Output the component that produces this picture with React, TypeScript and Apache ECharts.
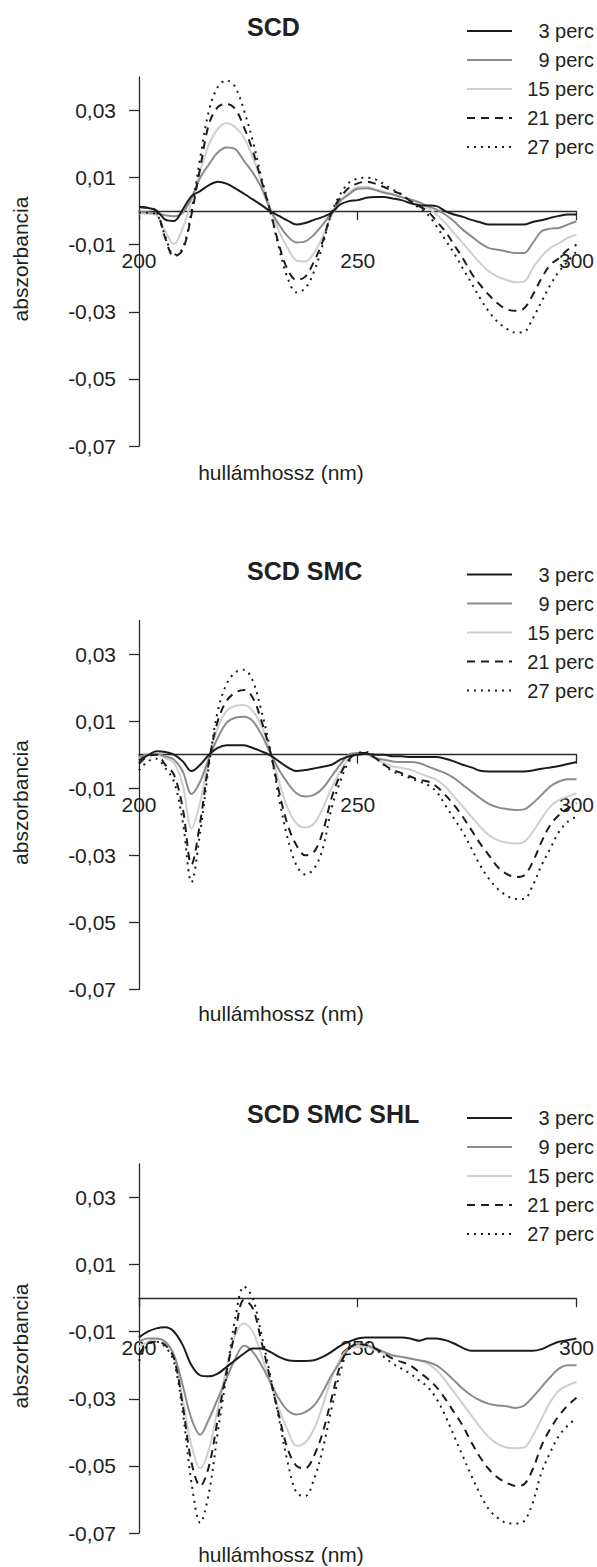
import React, { useEffect, useRef } from "react";
import * as echarts from "echarts";

// wavelength grid (nm)
const wavelengths = [
  200, 202, 204, 206, 208, 210, 212, 214, 216, 218, 220, 222, 224, 226, 228, 230, 232,
  234, 236, 238, 240, 242, 244, 246, 248, 250, 252, 254, 256, 258, 260, 262, 264, 266,
  268, 270, 272, 274, 276, 278, 280, 282, 284, 286, 288, 290, 292, 294, 296, 298, 300,
];

const seriesNames = ["3 perc", "9 perc", "15 perc", "21 perc", "27 perc"];
const panelTitles = ["SCD", "SCD SMC", "SCD SMC SHL"];
const yTicks = [-0.07, -0.05, -0.03, -0.01, 0.01, 0.03];
const xTicks = [200, 250, 300];
const xAxisName = "hullámhossz (nm)";
const yAxisName = "abszorbancia";

// values are absorbance × 100
// --- SCD ---
const scd3 = [0.13, 0.1, 0.02, -0.25, -0.29, 0.05, 0.45, 0.6, 0.78, 0.88, 0.82, 0.68, 0.52, 0.35, 0.18, 0.0, -0.14, -0.28, -0.4, -0.35, -0.26, -0.17, -0.05, 0.2, 0.3, 0.33, 0.4, 0.42, 0.42, 0.38, 0.33, 0.24, 0.18, 0.17, 0.15, 0.0, -0.1, -0.17, -0.26, -0.33, -0.4, -0.4, -0.4, -0.4, -0.4, -0.32, -0.27, -0.2, -0.14, -0.1, -0.1];
const scd9 = [-0.02, -0.03, -0.07, -0.12, -0.15, -0.05, 0.4, 1.0, 1.4, 1.75, 1.9, 1.85, 1.5, 1.15, 0.7, 0.05, -0.4, -0.75, -0.93, -0.9, -0.7, -0.4, -0.05, 0.3, 0.5, 0.67, 0.68, 0.63, 0.55, 0.5, 0.42, 0.35, 0.27, 0.15, 0.05, -0.1, -0.3, -0.55, -0.75, -0.95, -1.1, -1.15, -1.2, -1.25, -1.25, -0.95, -0.6, -0.52, -0.5, -0.4, -0.3];
const scd15 = [-0.07, -0.08, -0.12, -0.6, -0.98, -0.5, 0.3, 1.2, 2.0, 2.45, 2.63, 2.5, 2.2, 1.6, 0.9, 0.1, -0.6, -1.1, -1.47, -1.5, -1.25, -0.75, -0.15, 0.3, 0.55, 0.72, 0.73, 0.65, 0.58, 0.5, 0.42, 0.35, 0.22, 0.1, -0.1, -0.35, -0.65, -0.95, -1.25, -1.55, -1.8, -1.95, -2.05, -2.12, -2.1, -1.7, -1.35, -1.1, -0.95, -0.8, -0.7];
const scd21 = [0.12, 0.1, 0.0, -0.8, -1.35, -1.15, -0.1, 1.3, 2.6, 3.1, 3.2, 3.05, 2.5, 1.8, 0.9, 0.0, -1.0, -1.75, -2.05, -1.95, -1.5, -0.9, -0.05, 0.4, 0.7, 0.83, 0.88, 0.82, 0.72, 0.6, 0.5, 0.3, 0.15, 0.0, -0.3, -0.6, -1.0, -1.4, -1.85, -2.2, -2.5, -2.75, -2.92, -2.97, -2.9, -2.5, -2.0, -1.6, -1.4, -1.15, -1.0];
const scd27 = [-0.05, -0.05, -0.1, -0.75, -1.3, -1.1, 0.0, 1.6, 3.0, 3.7, 3.9, 3.7, 3.0, 2.1, 1.0, 0.0, -1.1, -2.0, -2.42, -2.3, -1.8, -1.0, -0.05, 0.5, 0.85, 0.97, 1.0, 0.95, 0.8, 0.65, 0.5, 0.3, 0.1, -0.1, -0.45, -0.85, -1.25, -1.7, -2.15, -2.6, -3.0, -3.3, -3.5, -3.62, -3.6, -3.2, -2.7, -2.2, -1.8, -1.5, -1.2];

// --- SCD SMC ---
const smc3 = [-0.17, -0.02, 0.1, 0.08, 0.0, -0.2, -0.49, -0.3, 0.0, 0.2, 0.28, 0.28, 0.28, 0.2, 0.1, -0.02, -0.2, -0.38, -0.49, -0.46, -0.41, -0.36, -0.3, -0.15, -0.05, 0.0, 0.03, 0.0, 0.0, -0.05, -0.05, -0.07, -0.07, -0.07, -0.07, -0.12, -0.2, -0.3, -0.38, -0.48, -0.5, -0.5, -0.5, -0.5, -0.5, -0.47, -0.42, -0.38, -0.34, -0.28, -0.22];
const smc9 = [-0.07, 0.0, 0.02, -0.05, -0.15, -0.5, -1.17, -0.8, -0.1, 0.5, 0.95, 1.1, 1.13, 1.0, 0.6, 0.05, -0.45, -0.85, -1.15, -1.25, -1.2, -1.0, -0.65, -0.3, 0.0, 0.05, 0.02, -0.1, -0.15, -0.2, -0.22, -0.22, -0.25, -0.35, -0.45, -0.55, -0.7, -0.9, -1.1, -1.3, -1.47, -1.57, -1.62, -1.65, -1.63, -1.45, -1.2, -0.95, -0.8, -0.73, -0.73];
const smc15 = [-0.12, 0.0, 0.0, -0.1, -0.25, -0.9, -2.2, -1.4, -0.1, 0.8, 1.3, 1.45, 1.48, 1.3, 0.85, 0.1, -0.8, -1.6, -2.05, -2.17, -2.05, -1.6, -1.0, -0.5, -0.1, 0.05, 0.02, -0.1, -0.25, -0.35, -0.4, -0.45, -0.55, -0.65, -0.75, -0.95, -1.25, -1.55, -1.85, -2.15, -2.4, -2.55, -2.62, -2.65, -2.6, -2.3, -1.9, -1.55, -1.35, -1.25, -1.15];
const smc21 = [-0.27, -0.05, 0.0, -0.3, -0.6, -1.6, -3.27, -2.0, -0.2, 1.0, 1.6, 1.85, 1.93, 1.7, 1.0, 0.1, -1.1, -2.1, -2.7, -3.0, -2.9, -2.3, -1.3, -0.6, -0.15, 0.05, 0.05, -0.1, -0.3, -0.45, -0.55, -0.65, -0.75, -0.8, -0.95, -1.2, -1.5, -1.85, -2.25, -2.65, -3.0, -3.35, -3.55, -3.65, -3.6, -3.2, -2.6, -2.1, -1.8, -1.6, -1.45];
const smc27 = [-0.47, -0.2, -0.12, -0.4, -0.8, -2.0, -3.8, -2.3, -0.3, 1.3, 2.1, 2.45, 2.53, 2.2, 1.3, 0.15, -1.3, -2.5, -3.3, -3.57, -3.4, -2.8, -1.6, -0.8, -0.2, 0.05, 0.08, -0.1, -0.3, -0.5, -0.6, -0.7, -0.8, -0.9, -1.1, -1.5, -1.9, -2.3, -2.8, -3.3, -3.7, -4.0, -4.2, -4.3, -4.3, -3.9, -3.3, -2.8, -2.3, -2.0, -1.85];

// --- SCD SMC SHL ---
const shl3 = [-1.17, -1.0, -0.9, -0.87, -1.0, -1.4, -2.0, -2.3, -2.33, -2.25, -2.05, -1.85, -1.65, -1.5, -1.5, -1.6, -1.75, -1.85, -1.87, -1.87, -1.85, -1.75, -1.6, -1.42, -1.3, -1.2, -1.17, -1.17, -1.17, -1.17, -1.17, -1.2, -1.27, -1.2, -1.2, -1.25, -1.35, -1.48, -1.57, -1.57, -1.57, -1.57, -1.57, -1.57, -1.57, -1.57, -1.52, -1.4, -1.3, -1.25, -1.2];
const shl9 = [-1.3, -1.2, -1.2, -1.3, -1.7, -2.6, -3.6, -4.07, -3.6, -3.0, -2.4, -1.8, -1.42, -1.6, -2.0, -2.5, -3.0, -3.35, -3.47, -3.4, -3.2, -2.8, -2.3, -1.9, -1.5, -1.37, -1.4, -1.5, -1.6, -1.7, -1.75, -1.8, -1.85, -1.9, -2.0, -2.2, -2.45, -2.7, -2.9, -3.05, -3.15, -3.2, -3.22, -3.27, -3.2, -2.95, -2.65, -2.35, -2.1, -2.0, -2.0];
const shl15 = [-1.45, -1.3, -1.2, -1.3, -1.7, -3.0, -4.4, -5.07, -4.5, -3.3, -2.1, -1.1, -0.75, -1.0, -1.7, -2.5, -3.3, -3.95, -4.4, -4.3, -3.9, -3.2, -2.4, -1.8, -1.5, -1.45, -1.45, -1.55, -1.65, -1.72, -1.75, -1.8, -1.85, -1.95, -2.15, -2.45, -2.8, -3.15, -3.5, -3.85, -4.15, -4.35, -4.45, -4.47, -4.45, -4.1, -3.6, -3.1, -2.75, -2.6, -2.5];
const shl21 = [-1.67, -1.35, -1.3, -1.4, -1.8, -3.2, -4.9, -5.6, -5.0, -3.6, -2.2, -1.0, -0.05, -0.3, -1.3, -2.4, -3.5, -4.5, -5.0, -5.07, -4.7, -4.0, -3.0, -2.0, -1.5, -1.37, -1.4, -1.5, -1.65, -1.8, -1.9, -2.0, -2.2, -2.4, -2.65, -3.0, -3.4, -3.8, -4.3, -4.75, -5.1, -5.35, -5.5, -5.6, -5.55, -5.1, -4.4, -3.9, -3.5, -3.2, -2.97];
const shl27 = [-1.87, -1.4, -1.3, -1.45, -1.9, -3.4, -5.5, -6.7, -5.8, -4.0, -2.3, -0.6, 0.35, 0.0, -1.1, -2.3, -3.6, -4.9, -5.8, -5.9, -5.4, -4.5, -3.3, -2.2, -1.5, -1.35, -1.3, -1.5, -1.75, -1.95, -2.1, -2.25, -2.45, -2.65, -3.0, -3.5, -4.1, -4.7, -5.3, -5.85, -6.3, -6.55, -6.7, -6.72, -6.65, -6.1, -5.2, -4.6, -4.1, -3.8, -3.57];

const panelData = [
  [scd3, scd9, scd15, scd21, scd27],
  [smc3, smc9, smc15, smc21, smc27],
  [shl3, shl9, shl15, shl21, shl27],
];

const FONT = '"Liberation Sans", Arial, Helvetica, sans-serif';
const TEXT = "#231f20";
const lineStyles: any[] = [
  { color: "#1c1c1c", width: 2, type: "solid" },
  { color: "#8c8c8c", width: 2, type: "solid" },
  { color: "#cfcfcf", width: 2, type: "solid" },
  { color: "#1c1c1c", width: 2, type: [8, 6] },
  { color: "#1c1c1c", width: 2, type: [2, 5] },
];

const offsets = [0, 543.5, 1087];
const xNameY = [472, 1013.5, 1554];
const GRID_TOP = 77;
const GRID_H = 369;

function buildOption() {
  const grid = offsets.map((o) => ({ left: 139, top: GRID_TOP + o, width: 438, height: GRID_H }));
  // labels sit below the zero line (zero is 134 px above the grid's bottom)
  const zeroFromBottom = GRID_H * (0.07 / 0.11);
  const xAxis = offsets.map((_, i) => ({
    type: "value",
    gridIndex: i,
    min: 200,
    max: 300,
    interval: 50,
    axisLine: { show: true, onZero: true, lineStyle: { color: "#2a2a2a", width: 1.3 } },
    axisTick: { show: true, length: 9, customValues: xTicks, lineStyle: { color: "#2a2a2a", width: 1.3 } },
    axisLabel: {
      margin: 39 - zeroFromBottom,
      fontSize: 21,
      fontFamily: FONT,
      color: TEXT,
      customValues: xTicks,
      formatter: (v: number) => String(v),
    },
    splitLine: { show: false },
  }));
  const yAxis = offsets.map((_, i) => ({
    type: "value",
    gridIndex: i,
    min: -0.07,
    max: 0.04,
    axisLine: { show: true, onZero: false, lineStyle: { color: "#2a2a2a", width: 1.3 } },
    axisTick: { show: true, length: 10, customValues: yTicks, lineStyle: { color: "#2a2a2a", width: 1.3 } },
    axisLabel: {
      margin: 23,
      fontSize: 21,
      fontFamily: FONT,
      color: TEXT,
      customValues: yTicks,
      formatter: (v: number) => v.toFixed(2).replace(".", ","),
    },
    splitLine: { show: false },
  }));

  const series: any[] = [];
  const drawOrder = [2, 1, 0, 3, 4];
  panelData.forEach((arrs, i) => {
    drawOrder.forEach((j) => {
      series.push({
        type: "line",
        name: seriesNames[j],
        xAxisIndex: i,
        yAxisIndex: i,
        data: wavelengths.map((w, k) => [w, arrs[j][k] / 100]),
        symbol: "none",
        showSymbol: false,
        smooth: 0.35,
        lineStyle: lineStyles[j],
        z: 3,
      });
    });
  });

  const graphic: any[] = [];
  offsets.forEach((o, i) => {
    graphic.push({
      type: "text",
      x: 247,
      y: 27 + o,
      style: {
        text: panelTitles[i],
        fontSize: 25,
        fontWeight: "bold",
        fontFamily: FONT,
        fill: TEXT,
        textAlign: "left",
        textVerticalAlign: "middle",
        align: "left",
        verticalAlign: "middle",
      },
    });
    seriesNames.forEach((name, j) => {
      const y = 31 + o + j * 29;
      const ls = lineStyles[j];
      graphic.push({
        type: "line",
        shape: { x1: 467, y1: y, x2: 512, y2: y },
        style: {
          stroke: ls.color,
          lineWidth: 2,
          lineDash: Array.isArray(ls.type) ? ls.type : null,
        },
      });
      graphic.push({
        type: "text",
        x: 594,
        y,
        style: {
          text: name,
          fontSize: 20,
          fontFamily: FONT,
          fill: TEXT,
          textAlign: "right",
          textVerticalAlign: "middle",
          align: "right",
          verticalAlign: "middle",
        },
      });
    });
    graphic.push({
      type: "text",
      x: 281,
      y: xNameY[i],
      style: {
        text: xAxisName,
        fontSize: 21,
        fontFamily: FONT,
        fill: TEXT,
        textAlign: "center",
        textVerticalAlign: "middle",
        align: "center",
        verticalAlign: "middle",
      },
    });
    graphic.push({
      type: "text",
      x: 20,
      y: 259 + o,
      rotation: Math.PI / 2,
      style: {
        text: yAxisName,
        fontSize: 21,
        fontFamily: FONT,
        fill: TEXT,
        textAlign: "center",
        textVerticalAlign: "middle",
        align: "center",
        verticalAlign: "middle",
      },
    });
  });

  return {
    animation: false,
    backgroundColor: "#ffffff",
    grid,
    xAxis,
    yAxis,
    series,
    graphic,
  };
}

export default function App() {
  const ref = useRef<HTMLDivElement>(null);
  useEffect(() => {
    if (!ref.current) return;
    const chart = echarts.init(ref.current, undefined, { renderer: "svg" });
    chart.setOption(buildOption() as any);
    return () => chart.dispose();
  }, []);
  return (
    <div
      ref={ref}
      style={{ position: "absolute", left: 0, top: 0, width: 597, height: 1567, background: "#fff" }}
    />
  );
}
